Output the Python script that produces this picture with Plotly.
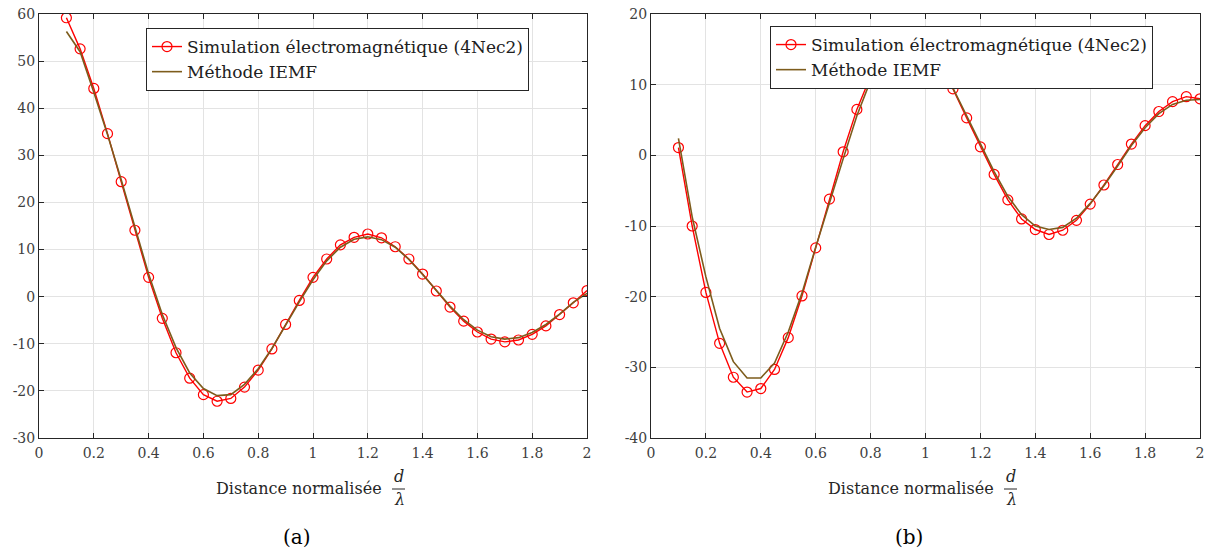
import plotly.graph_objects as go

# ---- data ----
d_sim = [round(0.1 + 0.05 * i, 2) for i in range(39)]
d_iemf = d_sim

sim_a = [59.2, 52.6, 44.2, 34.6, 24.4, 14.1, 4.1, -4.6, -11.9, -17.3,
         -20.8, -22.2, -21.6, -19.2, -15.6, -11.1, -5.9, -0.8, 4.1, 8.0,
         11.0, 12.6, 13.3, 12.5, 10.6, 8.0, 4.8, 1.2, -2.2, -5.2,
         -7.5, -9.0, -9.6, -9.2, -8.0, -6.2, -3.8, -1.3, 1.3]
iemf_a = [56.3, 52.0, 43.4, 34.4, 24.8, 14.8, 4.8, -3.8, -10.8, -16.2,
          -19.5, -21.0, -20.8, -18.6, -15.3, -11.0, -6.0, -1.1, 3.6, 7.6,
          10.5, 12.2, 12.7, 12.1, 10.5, 7.9, 4.7, 1.3, -2.0, -4.9,
          -7.1, -8.5, -9.0, -8.7, -7.6, -5.9, -3.7, -1.2, 0.7]

sim_b = [1.1, -10.0, -19.4, -26.6, -31.4, -33.5, -33.0, -30.3, -25.8, -19.9,
         -13.1, -6.2, 0.5, 6.5, 11.2, 15.0, 16.8, 16.8, 15.2, 12.8,
         9.4, 5.3, 1.2, -2.7, -6.3, -9.0, -10.5, -11.2, -10.6, -9.2,
         -6.9, -4.2, -1.3, 1.6, 4.2, 6.2, 7.6, 8.3, 8.0]
iemf_b = [2.4, -8.7, -17.2, -24.5, -29.2, -31.5, -31.5, -29.4, -25.0, -19.5,
          -13.0, -6.6, -0.5, 5.6, 10.6, 14.2, 16.0, 16.2, 14.8, 12.4,
          9.5, 5.6, 1.6, -2.3, -5.8, -8.4, -10.0, -10.5, -10.2, -8.9,
          -6.8, -4.3, -1.5, 1.4, 3.9, 5.9, 7.2, 7.8, 7.9]

x_ticks = [0, 0.2, 0.4, 0.6, 0.8, 1, 1.2, 1.4, 1.6, 1.8, 2]
x_ticktext = ["0", "0.2", "0.4", "0.6", "0.8", "1", "1.2", "1.4", "1.6", "1.8", "2"]
y_ticks_a = [60, 50, 40, 30, 20, 10, 0, -10, -20, -30]
y_ticks_b = [20, 10, 0, -10, -20, -30, -40]

name_sim = "Simulation électromagnétique (4Nec2)"
name_iemf = "Méthode IEMF"
x_title = "Distance normalisée"
captions = ["(a)", "(b)"]

# ---- style ----
W, H = 1215, 554
FONT = "'DejaVu Serif', 'Liberation Serif', serif"
RED = "#ff0000"
BROWN = "#7d5c1c"
AXC = "#262626"
GRID = "#e3e3e3"

def px(v):
    return v / W

def py(v):
    return 1 - v / H

fig = go.Figure()

for i, (s, e) in enumerate([(sim_a, iemf_a), (sim_b, iemf_b)]):
    xa = "x" if i == 0 else "x2"
    ya = "y" if i == 0 else "y2"
    lg = "legend" if i == 0 else "legend2"
    fig.add_trace(go.Scatter(
        x=d_sim, y=s, xaxis=xa, yaxis=ya, mode="lines+markers", name=name_sim,
        line=dict(color=RED, width=1.4),
        marker=dict(symbol="circle-open", size=10, color=RED, line=dict(width=1.2, color=RED)),
        legend=lg))
    fig.add_trace(go.Scatter(
        x=d_iemf, y=e, xaxis=xa, yaxis=ya, mode="lines", name=name_iemf,
        line=dict(color=BROWN, width=1.6), legend=lg))

def xaxis(dom, anchor):
    return dict(domain=dom, anchor=anchor, range=[0, 2], tickvals=x_ticks, ticktext=x_ticktext,
                showgrid=True, gridcolor=GRID, gridwidth=1, zeroline=False, automargin=False,
                showline=True, linecolor=AXC, linewidth=1, mirror="ticks",
                ticks="inside", ticklen=5, tickcolor=AXC, ticklabelstandoff=2,
                tickfont=dict(family=FONT, size=14, color="#404040"))

def yaxis(dom, anchor, rng, vals):
    return dict(domain=dom, anchor=anchor, range=rng, tickvals=vals,
                ticktext=[str(v) if v >= 0 else "-" + str(-v) for v in vals],
                showgrid=True, gridcolor=GRID, gridwidth=1, zeroline=False, automargin=False,
                showline=True, linecolor=AXC, linewidth=1, mirror="ticks",
                ticks="inside", ticklen=5, tickcolor=AXC,
                tickfont=dict(family=FONT, size=14, color="#404040"))

ydom = [py(438), py(14)]
fig.update_layout(
    width=W, height=H,
    margin=dict(l=0, r=0, t=0, b=0),
    paper_bgcolor="white", plot_bgcolor="white",
    font=dict(family=FONT, color="#262626"),
    xaxis=xaxis([px(39), px(587)], "y"),
    yaxis=yaxis(ydom, "x", [-30, 60], y_ticks_a),
    xaxis2=xaxis([px(651), px(1200)], "y2"),
    yaxis2=yaxis(ydom, "x2", [-40, 20], y_ticks_b),
    legend=dict(x=px(146), y=py(28), xanchor="left", yanchor="top",
                bgcolor="white", bordercolor=AXC, borderwidth=1,
                font=dict(family=FONT, size=17, color="#202020"),
                itemwidth=30, tracegroupgap=0),
    legend2=dict(x=px(770), y=py(26), xanchor="left", yanchor="top",
                 bgcolor="white", bordercolor=AXC, borderwidth=1,
                 font=dict(family=FONT, size=17, color="#202020"),
                 itemwidth=30, tracegroupgap=0),
    showlegend=True,
)

anns = []
shapes = []
for k, off in enumerate([0, 612]):
    anns.append(dict(x=px(384 + off), y=py(488), xref="paper", yref="paper",
                     text=x_title, showarrow=False, xanchor="right", yanchor="middle",
                     font=dict(family=FONT, size=16, color="#262626")))
    anns.append(dict(x=px(399 + off), y=py(476), xref="paper", yref="paper",
                     text="<i>d</i>", showarrow=False, xanchor="center", yanchor="middle",
                     font=dict(family=FONT, size=16, color="#262626")))
    anns.append(dict(x=px(399 + off), y=py(500), xref="paper", yref="paper",
                     text="<i>λ</i>", showarrow=False, xanchor="center", yanchor="middle",
                     font=dict(family=FONT, size=16, color="#262626")))
    shapes.append(dict(type="line", xref="paper", yref="paper",
                       x0=px(392 + off), x1=px(405 + off), y0=py(489), y1=py(489),
                       line=dict(color="#262626", width=1)))
    anns.append(dict(x=px(297 + off), y=py(537), xref="paper", yref="paper",
                     text=captions[k], showarrow=False, xanchor="center", yanchor="middle",
                     font=dict(family=FONT, size=20, color="#000000")))

fig.update_layout(annotations=anns, shapes=shapes)
fig.write_html("out.html", config={"displayModeBar": False},
               post_script="document.body.style.margin='0';document.body.style.overflow='hidden';")
